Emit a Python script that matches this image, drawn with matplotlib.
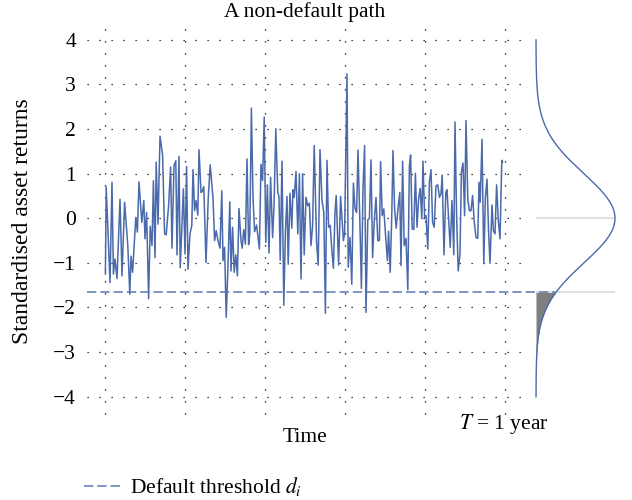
import numpy as np
import matplotlib
matplotlib.use("Agg")
import matplotlib.pyplot as plt
from matplotlib.lines import Line2D

# ---------------- data ----------------
title = "A non-default path"
ylabel = "Standardised asset returns"
xlabel = "Time"
horizon_label = "$T$ = 1 year"
legend_label = "Default threshold $d_i$"
yticks = [-4, -3, -2, -1, 0, 1, 2, 3, 4]
time_grid = [0.0, 0.2, 0.4, 0.6, 0.8, 1.0]
threshold = -1.65

# time (fraction of year) and standardised returns of the path
t = [0.001, 0.003, 0.0125, 0.0175, 0.021, 0.025, 0.030, 0.0375, 0.0425, 0.049,
     0.057, 0.062, 0.065, 0.069, 0.077, 0.081, 0.085, 0.092, 0.097, 0.100,
     0.104, 0.109, 0.113, 0.1175, 0.121, 0.125, 0.128, 0.1325, 0.1375, 0.144,
     0.149, 0.153, 0.159, 0.164, 0.1675, 0.1725, 0.177, 0.180, 0.185, 0.188,
     0.196, 0.200, 0.204, 0.2075, 0.2125, 0.217, 0.220, 0.224, 0.2275, 0.232,
     0.235, 0.240, 0.243, 0.247, 0.2525, 0.258, 0.263, 0.270, 0.274, 0.278,
     0.2825, 0.2875, 0.292, 0.295, 0.299, 0.303, 0.3075, 0.312, 0.315, 0.319,
     0.323, 0.327, 0.331, 0.335, 0.340, 0.343, 0.347, 0.351, 0.355, 0.359,
     0.362, 0.366, 0.370, 0.374, 0.379, 0.386, 0.390,
     0.394, 0.398, 0.402, 0.406, 0.410, 0.414, 0.419, 0.4225, 0.427, 0.432,
     0.435, 0.438, 0.4425, 0.447, 0.451, 0.455, 0.458, 0.4625, 0.467, 0.470,
     0.473, 0.4775, 0.482, 0.486, 0.490, 0.494, 0.498, 0.5025, 0.507, 0.511,
     0.515, 0.519, 0.523, 0.529, 0.533, 0.5375, 0.5425, 0.547, 0.551, 0.555,
     0.559, 0.563, 0.5675, 0.571, 0.575, 0.578, 0.584, 0.589,
     0.596, 0.599, 0.605, 0.608, 0.6125, 0.617, 0.621, 0.625, 0.629, 0.6325,
     0.637, 0.641, 0.645, 0.649, 0.6525, 0.657, 0.661, 0.665, 0.669, 0.673,
     0.6775, 0.682, 0.686, 0.689, 0.693, 0.697, 0.702, 0.706, 0.709, 0.713,
     0.717, 0.720, 0.724, 0.728, 0.7325, 0.737, 0.740, 0.744, 0.748, 0.7525,
     0.757, 0.761, 0.764, 0.768, 0.772, 0.776, 0.780, 0.784, 0.788, 0.792,
     0.795, 0.799, 0.8025, 0.807, 0.811, 0.815, 0.819, 0.823, 0.8275, 0.832,
     0.836, 0.840, 0.843, 0.8475, 0.852, 0.855, 0.859, 0.863, 0.8675, 0.872,
     0.875, 0.879, 0.883, 0.8875, 0.891, 0.895, 0.899, 0.9025, 0.907, 0.911,
     0.915, 0.919, 0.923, 0.9275, 0.932, 0.935, 0.938, 0.9425, 0.947, 0.951,
     0.955, 0.959, 0.9625, 0.9675, 0.971, 0.975, 0.979, 0.983, 0.9875, 0.992,
     0.994]
returns = [-1.25, 0.70, -1.44, 0.81, -1.25, -0.91, -1.35, 0.43, -1.29, 0.36,
           -0.61, -1.70, -0.85, -1.21, 0.02, -0.31, 0.82, -0.09, 0.40, -0.46,
           0.13, -1.80, -0.18, -0.61, 0.84, -0.88, 1.26, -0.13, 1.84, 1.42,
           -0.35, -0.37, 0.28, 1.15, -0.67, 1.18, 1.29, -0.82, 1.39, -1.11,
           0.66, -0.80, 1.16, -1.14, -0.35, -0.16, 1.09, 0.17, 0.40, 0.07,
           1.54, 0.58, 0.60, 0.71, -0.99, 0.43, 1.20, 0.45, -0.50, -0.28,
           -0.50, -0.67, 0.62, -0.95, -0.65, -2.22, -1.06, 0.37, -1.18, -0.20,
           -1.21, -0.82, -1.29, 0.22, -0.50, -0.67, -0.25, -0.58, 1.33, -0.59,
           -0.35, 2.47, 0.47, -0.30, -0.15, -0.69, 1.21,
           0.85, 2.27, -0.54, 0.75, -0.78, 0.92, -0.43, 0.25, 2.01, 0.58,
           0.49, -0.94, 1.28, -1.95, -0.31, 0.49, -1.03, 0.56, -0.22, 0.64,
           0.47, 1.05, -0.35, 1.00, -1.36, 1.00, -0.82, 0.47, 0.28, 0.34,
           -0.61, -0.16, 1.63, -0.54, -1.05, 1.54, 0.40, 0.13, -2.13, 1.30,
           -0.20, -0.16, -0.76, -1.12, 0.13, 0.51, -1.05, 0.49,
           -0.50, -0.35, 3.24, -1.10, -0.43, -1.48, 0.79, 0.22, 0.13, 1.53,
           -0.01, -1.57, 0.66, 1.63, -2.11, -0.03, -0.01, 1.31, -0.88, -0.09,
           0.47, -0.50, -0.50, 1.27, 0.06, 0.21, -0.46, -0.95, -0.29, -1.21,
           0.10, 1.52, 0.21, -0.22, 0.21, 0.58, -1.06, 1.28, -0.61, -0.45,
           -1.60, 1.18, 1.42, -0.24, -0.25, 1.01, -0.20, 0.43, 0.67, -0.01,
           1.28, 0.02, 0.06, -0.69, 0.81, 1.09, -0.09, -0.20, 0.73, 0.75,
           0.47, 0.55, 0.97, -0.82, 0.58, 0.64, -0.01, -0.65, 0.40, -0.82,
           2.16, 0.06, -1.18, -0.80, 1.03, 1.24, 0.06, 2.19, 0.43, 0.17,
           0.17, 0.51, -0.07, -0.43, -0.45, 0.81, 0.36, 1.77, -1.00, 0.47,
           0.88, -0.31, -1.01, 0.30, -0.28, -0.35, 0.75, -0.01, -0.46, 1.30,
           1.26]

# ---------------- style ----------------
plt.rcParams['font.family'] = ['Liberation Serif', 'DejaVu Serif']
plt.rcParams['mathtext.fontset'] = 'stix'
FS = 15.5
BLUE = '#4a6aab'
DASH_BLUE = '#5a79b3'

W, H = 632, 500
fig = plt.figure(figsize=(W / 100, H / 100), dpi=100)

# axes placed in pixel terms
ax_l, ax_r, ax_t, ax_b = 87, 632, 20, 425
ax = fig.add_axes([ax_l / W, 1 - ax_b / H, (ax_r - ax_l) / W, (ax_b - ax_t) / H])

# mapping: time 0 -> px 105, time 1 -> px 505 ; value 0 -> px 218.3, 1 unit = 44.6 px
x0 = (ax_l - 105) / 400
x1 = (ax_r - 105) / 400
y_top = (218.3 - ax_t) / 44.6
y_bot = (218.3 - ax_b) / 44.6
ax.set_xlim(x0, x1)
ax.set_ylim(y_bot, y_top)

for s in ax.spines.values():
    s.set_visible(False)
ax.set_xticks([])
ax.set_yticks(yticks)
ax.set_yticklabels([f"{v}".replace('-', '\u2212') for v in yticks], fontsize=FS)
ax.tick_params(axis='y', length=0, pad=8)

# dotted grid
grid_right = (522 - 105) / 400
dot = dict(color='black', linewidth=0.9, linestyle=(0, (1, 8.6)))
ax.hlines(yticks, x0, grid_right, **dot)
ax.vlines(time_grid, -4.38, 4.26, **dot)

# the path
ax.plot(t, returns, color=BLUE, linewidth=1.1, zorder=3)

# threshold
dash_end = (555 - 105) / 400
ax.hlines(threshold, x0, dash_end, color=DASH_BLUE, linewidth=1.1,
          linestyles=(0, (6.1, 2.6)), zorder=4)

# rotated normal density at horizon
base = (536 - 105) / 400
scale = (79 / 400) / (1 / np.sqrt(2 * np.pi))
yy = np.linspace(-4, 4, 600)
pdf = np.exp(-yy ** 2 / 2) / np.sqrt(2 * np.pi)
peak_x = base + scale * pdf.max()
ax.hlines([0, threshold], base, peak_x, color='#dedede', linewidth=1.3, zorder=1)
mask = yy <= threshold
ax.fill_betweenx(yy[mask], base, base + scale * pdf[mask], color='#7f7f7f',
                 linewidth=0, zorder=2)
ax.plot(base + scale * pdf, yy, color=BLUE, linewidth=1.0, zorder=3)

# texts
fig.text(305 / W, 1 - 12 / H, title, ha='center', va='center', fontsize=FS)
ax.set_ylabel(ylabel, fontsize=17, va='center')
ax.yaxis.set_label_coords((22 - ax_l) / (ax_r - ax_l), (ax_b - 221) / (ax_b - ax_t))
ax.set_xlabel(xlabel, fontsize=FS, va='center')
ax.xaxis.set_label_coords((305 - ax_l) / (ax_r - ax_l), (ax_b - 437) / (ax_b - ax_t))
fig.text(504 / W, 1 - 424 / H, horizon_label, ha='center', va='center', fontsize=FS)

handle = Line2D([], [], color=DASH_BLUE, linewidth=1.1, linestyle=(0, (6.1, 2.6)))
fig.legend(handles=[handle], labels=[legend_label], loc='center left',
           bbox_to_anchor=(84 / W, 1 - 487 / H), frameon=False, fontsize=FS,
           borderpad=0, borderaxespad=0, handlelength=1.65, handletextpad=0.5)

fig.savefig('out.png', dpi=100)
